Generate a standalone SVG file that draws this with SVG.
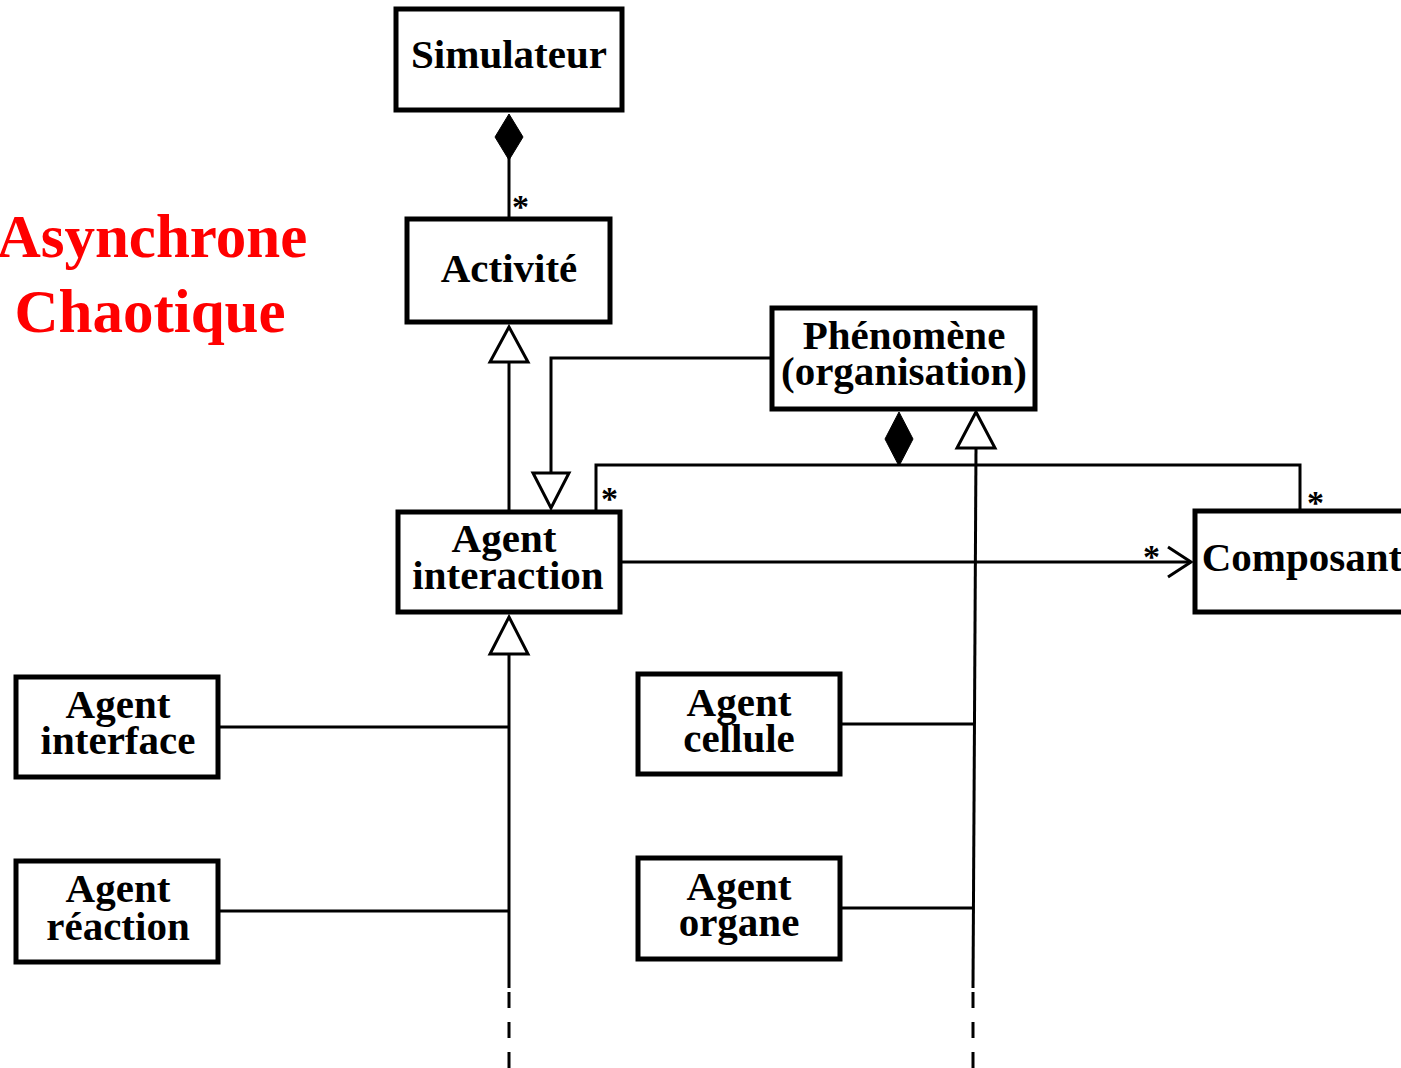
<svg xmlns="http://www.w3.org/2000/svg" width="1401" height="1068" viewBox="0 0 1401 1068">
  <style>
    .box { fill: #fff; stroke: #000; stroke-width: 5; }
    .lbl { font-family: "Liberation Serif", "Times New Roman", serif; font-weight: bold; font-size: 41px; fill: #000; text-anchor: middle; }
    .line { fill: none; stroke: #000; stroke-width: 3; }
    .dash { fill: none; stroke: #000; stroke-width: 3; stroke-dasharray: 16 14; }
    .open { fill: #fff; stroke: #000; stroke-width: 3; }
    .fill { fill: #000; stroke: #000; stroke-width: 1; }
    .mult { font-family: "Liberation Serif", "Times New Roman", serif; font-weight: bold; font-size: 34px; fill: #000; }
    .title { font-family: "Liberation Serif", "Times New Roman", serif; font-weight: bold; font-size: 61px; fill: #ff0000; text-anchor: middle; }
  </style>

  <g id="title">
    <text class="title" x="152" y="257">Asynchrone</text>
    <text class="title" x="150" y="332">Chaotique</text>
  </g>

  <g id="connectors">
    <!-- Simulateur composition of Activité -->
    <line class="line" x1="509" y1="158" x2="509" y2="218"/>
    <polygon class="fill" points="509,114 523,137 509,160 495,137"/>
    <text class="mult" x="512" y="218">*</text>

    <!-- Agent interaction specialises Activité -->
    <line class="line" x1="509" y1="362" x2="509" y2="510"/>
    <polygon class="open" points="509,327 528,362 490,362"/>

    <!-- Phénomène to Agent interaction -->
    <polyline class="line" points="770,358 551,358 551,473"/>
    <polygon class="open" points="533,473 569,473 551,508"/>

    <!-- Phénomène composition of Agent interaction and Composant -->
    <polyline class="line" points="596,510 596,465 1300,465 1300,509"/>
    <polygon class="fill" points="899,412 913,439 899,466 885,439"/>
    <text class="mult" x="601" y="510">*</text>
    <text class="mult" x="1307" y="514">*</text>

    <!-- specialisations of Phénomène -->
    <polygon class="open" points="976,412 995,448 957,448"/>
    <polyline class="line" points="976,448 973,988"/>
    <line class="dash" x1="973" y1="992" x2="973" y2="1068"/>
    <line class="line" x1="842" y1="724" x2="974" y2="724"/>
    <line class="line" x1="842" y1="908" x2="973" y2="908"/>

    <!-- specialisations of Agent interaction -->
    <polygon class="open" points="509,617 528,654 490,654"/>
    <line class="line" x1="509" y1="654" x2="509" y2="988"/>
    <line class="dash" x1="509" y1="992" x2="509" y2="1068"/>
    <line class="line" x1="220" y1="727" x2="509" y2="727"/>
    <line class="line" x1="220" y1="911" x2="509" y2="911"/>

    <!-- navigable association to Composant -->
    <line class="line" x1="622" y1="562" x2="1191" y2="562"/>
    <polyline class="line" points="1168,547 1191,562 1168,577"/>
    <text class="mult" x="1143" y="568">*</text>
  </g>

  <g id="simulateur">
    <rect class="box" x="396" y="9" width="226" height="101"/>
    <text class="lbl" x="509" y="68">Simulateur</text>
  </g>

  <g id="activite">
    <rect class="box" x="407" y="219" width="203" height="103"/>
    <text class="lbl" x="509" y="282">Activité</text>
  </g>

  <g id="phenomene">
    <rect class="box" x="772" y="308" width="263" height="101"/>
    <text class="lbl" x="904" y="349">Phénomène</text>
    <text class="lbl" x="904" y="385">(organisation)</text>
  </g>

  <g id="agent-interaction">
    <rect class="box" x="398" y="512" width="222" height="100"/>
    <text class="lbl" x="504" y="552">Agent</text>
    <text class="lbl" x="508" y="589">interaction</text>
  </g>

  <g id="composant">
    <rect class="box" x="1195" y="511" width="220" height="101"/>
    <text class="lbl" x="1302" y="571">Composant</text>
  </g>

  <g id="agent-interface">
    <rect class="box" x="16" y="677" width="202" height="100"/>
    <text class="lbl" x="118" y="718">Agent</text>
    <text class="lbl" x="118" y="754">interface</text>
  </g>

  <g id="agent-reaction">
    <rect class="box" x="16" y="861" width="202" height="101"/>
    <text class="lbl" x="118" y="902">Agent</text>
    <text class="lbl" x="118" y="940">réaction</text>
  </g>

  <g id="agent-cellule">
    <rect class="box" x="638" y="674" width="202" height="100"/>
    <text class="lbl" x="739" y="716">Agent</text>
    <text class="lbl" x="739" y="752">cellule</text>
  </g>

  <g id="agent-organe">
    <rect class="box" x="638" y="858" width="202" height="101"/>
    <text class="lbl" x="739" y="900">Agent</text>
    <text class="lbl" x="739" y="936">organe</text>
  </g>
</svg>
